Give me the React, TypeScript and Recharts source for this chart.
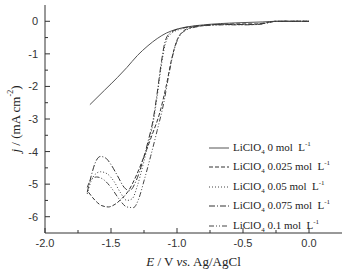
import React from 'react';
import { LineChart, Line, XAxis, YAxis, Legend, Label } from 'recharts';

type P = { x: number; y: number };
const mk = (a: number[][]): P[] => a.map(([x, y]) => ({ x, y }));

const xTicks = [-2.0, -1.75, -1.5, -1.25, -1.0, -0.75, -0.5, -0.25, 0.0];
const yTicks = [-6, -5.5, -5, -4.5, -4, -3.5, -3, -2.5, -2, -1.5, -1, -0.5, 0];

const conc0 = mk([
  [-1.66, -2.56], [-1.55, -2.12], [-1.45, -1.72], [-1.38, -1.42], [-1.3, -1.05], [-1.22, -0.75],
  [-1.15, -0.53], [-1.08, -0.36], [-1.0, -0.24], [-0.92, -0.17], [-0.8, -0.11], [-0.67, -0.07],
  [-0.5, -0.04], [-0.35, -0.02], [-0.25, 0], [-0.1, 0], [0, 0],
]);
const conc025 = mk([
  [-1.67, -5.25], [-1.62, -5.5], [-1.57, -5.66], [-1.52, -5.7], [-1.47, -5.62], [-1.42, -5.45],
  [-1.37, -5.22], [-1.31, -4.75], [-1.25, -4.15], [-1.19, -3.5], [-1.13, -2.8], [-1.08, -1.95],
  [-1.04, -1.15], [-1.0, -0.58], [-0.96, -0.33], [-0.9, -0.2], [-0.8, -0.13],
  [-0.65, -0.09], [-0.5, -0.08], [-0.4, -0.08], [-0.32, -0.04], [-0.25, 0], [0, 0],
]);
const conc05 = mk([
  [-1.68, -5.3], [-1.65, -4.9], [-1.62, -4.7], [-1.58, -4.62], [-1.53, -4.68], [-1.48, -4.9],
  [-1.43, -5.25], [-1.38, -5.5], [-1.34, -5.45], [-1.3, -5.05], [-1.26, -4.45], [-1.22, -3.8],
  [-1.18, -3.1], [-1.15, -2.3], [-1.12, -1.4], [-1.09, -0.72], [-1.05, -0.4], [-0.98, -0.25],
  [-0.9, -0.18], [-0.8, -0.13], [-0.65, -0.1], [-0.5, -0.1], [-0.4, -0.1], [-0.32, -0.05],
  [-0.25, 0], [0, 0],
]);
const conc075 = mk([
  [-1.68, -5.25], [-1.65, -4.75], [-1.62, -4.35], [-1.58, -4.15], [-1.54, -4.2], [-1.5, -4.4],
  [-1.45, -4.75], [-1.4, -5.1], [-1.36, -5.2], [-1.31, -4.9], [-1.26, -4.3], [-1.22, -3.7],
  [-1.18, -3.0], [-1.15, -2.2], [-1.12, -1.3], [-1.09, -0.62], [-1.05, -0.35], [-0.95, -0.2],
  [-0.8, -0.13], [-0.65, -0.1], [-0.5, -0.1], [-0.4, -0.1], [-0.32, -0.05], [-0.25, 0], [0, 0],
]);
const conc1 = mk([
  [-1.68, -5.1], [-1.65, -4.85], [-1.61, -4.78], [-1.56, -4.85], [-1.5, -5.1], [-1.44, -5.45],
  [-1.38, -5.7], [-1.33, -5.72], [-1.29, -5.45], [-1.25, -4.9], [-1.2, -4.15], [-1.15, -3.35],
  [-1.1, -2.5], [-1.06, -1.6], [-1.02, -0.85], [-0.98, -0.45], [-0.93, -0.27], [-0.86, -0.18],
  [-0.8, -0.14], [-0.65, -0.11], [-0.5, -0.11], [-0.4, -0.1], [-0.32, -0.05], [-0.25, 0], [0, 0],
]);

const series = [
  { name: '0', data: conc0, dash: undefined as string | undefined, color: '#555' },
  { name: '0.025', data: conc025, dash: '4 2', color: '#333' },
  { name: '0.05', data: conc05, dash: '1 2', color: '#444' },
  { name: '0.075', data: conc075, dash: '6 2 1 2', color: '#333' },
  { name: '0.1', data: conc1, dash: '5 2 1 2 1 2', color: '#444' },
];

const AX = '#333';
const sans = "'Liberation Sans', Arial, sans-serif";
const serif = "'Liberation Serif', 'Times New Roman', serif";

const isMajor = (v: number) => Math.abs(v * 2 - Math.round(v * 2)) < 1e-6;
const isMajorY = (v: number) => Math.abs(v - Math.round(v)) < 1e-6;

const XBottomTick = (props: any) => {
  const { x, y, payload } = props;
  const v = payload.value as number;
  const maj = isMajor(v);
  return (
    <g>
      <line x1={x} x2={x} y1={y} y2={y - (maj ? 5 : 3)} stroke={AX} />
      {maj && (
        <text x={x} y={y + 14} textAnchor="middle" fontFamily={sans} fontSize={11} fill="#333">
          {Math.abs(v) < 1e-9 ? '0.0' : v.toFixed(1)}
        </text>
      )}
    </g>
  );
};
const XTopTick = (props: any) => {
  const { x, y, payload } = props;
  const maj = isMajor(payload.value);
  return <line x1={x} x2={x} y1={y} y2={y + (maj ? 5 : 3)} stroke={AX} />;
};
const YLeftTick = (props: any) => {
  const { x, y, payload } = props;
  const v = payload.value as number;
  const maj = isMajorY(v);
  return (
    <g>
      <line x1={x} x2={x + (maj ? 5 : 3)} y1={y} y2={y} stroke={AX} />
      {maj && (
        <text x={x - 7} y={y + 4} textAnchor="end" fontFamily={sans} fontSize={11} fill="#333">
          {Math.round(v)}
        </text>
      )}
    </g>
  );
};
const YRightTick = (props: any) => {
  const { x, y, payload } = props;
  const maj = isMajorY(payload.value);
  return <line x1={x} x2={x - (maj ? 5 : 3)} y1={y} y2={y} stroke={AX} />;
};

const LegendContent = () => (
  <div style={{ fontFamily: serif, fontSize: 11, color: '#222' }}>
    {series.map((s) => (
      <div key={s.name} style={{ display: 'flex', alignItems: 'center', height: 19.5 }}>
        <svg width={22} height={8} style={{ marginRight: 3 }}>
          <line x1={1} x2={21} y1={4} y2={4} stroke={s.color} strokeWidth={1} strokeDasharray={s.dash} />
        </svg>
        <span>
          LiClO<sub style={{ fontSize: 7 }}>4</sub> {s.name} mol&nbsp;&nbsp;L<sup style={{ fontSize: 7 }}>-1</sup>
        </span>
      </div>
    ))}
  </div>
);

const XLabel = (props: any) => {
  const { viewBox } = props;
  const cx = viewBox.x + viewBox.width / 2;
  return (
    <text x={cx} y={viewBox.y + 33} textAnchor="middle" fontFamily={serif} fontSize={13} fill="#222">
      <tspan fontStyle="italic">E</tspan>
      <tspan> / V </tspan>
      <tspan fontStyle="italic">vs.</tspan>
      <tspan> Ag/AgCl</tspan>
    </text>
  );
};
const YLabel = (props: any) => {
  const { viewBox } = props;
  const cy = viewBox.y + viewBox.height / 2;
  const cx = 15;
  return (
    <text x={cx} y={cy} transform={`rotate(-90 ${cx} ${cy})`} textAnchor="middle" dominantBaseline="central" fontFamily={serif} fontSize={13} fill="#222">
      <tspan fontStyle="italic">j</tspan>
      <tspan> / (mA cm</tspan>
      <tspan fontSize={8} dy={-5}>-2</tspan>
      <tspan dy={5}>)</tspan>
    </text>
  );
};

export default function App() {
  return (
    <div style={{ position: 'absolute', left: 0, top: 0, background: '#fff' }}>
      <LineChart width={346} height={275} margin={{ top: 5, right: 4, bottom: 0, left: 0 }}>
        <XAxis
          xAxisId={0}
          dataKey="x"
          type="number"
          domain={[-2, 0.25]}
          allowDataOverflow
          ticks={xTicks}
          interval={0}
          height={42}
          tickSize={0}
          tickMargin={0}
          tickLine={false}
          tick={XBottomTick}
          axisLine={{ stroke: AX }}
        >
          <Label content={XLabel} />
        </XAxis>
        <XAxis
          xAxisId="top"
          orientation="top"
          type="number"
          domain={[-2, 0.25]}
          allowDataOverflow
          ticks={xTicks}
          interval={0}
          height={0}
          tickSize={0}
          tickMargin={0}
          tickLine={false}
          tick={XTopTick}
          axisLine={{ stroke: AX }}
        />
        <YAxis
          yAxisId={0}
          type="number"
          domain={[-6.5, 0.5]}
          allowDataOverflow
          ticks={yTicks}
          interval={0}
          width={45}
          tickSize={0}
          tickMargin={0}
          tickLine={false}
          tick={YLeftTick}
          axisLine={{ stroke: AX }}
        >
          <Label content={YLabel} />
        </YAxis>
        <YAxis
          yAxisId="right"
          orientation="right"
          type="number"
          domain={[-6.5, 0.5]}
          allowDataOverflow
          ticks={yTicks}
          interval={0}
          width={0}
          tickSize={0}
          tickMargin={0}
          tickLine={false}
          tick={YRightTick}
          axisLine={{ stroke: AX }}
        />
        {series.map((s) => (
          <Line
            key={s.name}
            data={s.data}
            dataKey="y"
            name={s.name}
            type="monotone"
            stroke={s.color}
            strokeWidth={1}
            strokeDasharray={s.dash}
            dot={false}
            activeDot={false}
            isAnimationActive={false}
          />
        ))}
        <Legend
          layout="vertical"
          align="center"
          verticalAlign="middle"
          content={LegendContent}
          wrapperStyle={{ left: 208, top: 138, width: 140, height: 100 }}
        />
      </LineChart>
    </div>
  );
}
